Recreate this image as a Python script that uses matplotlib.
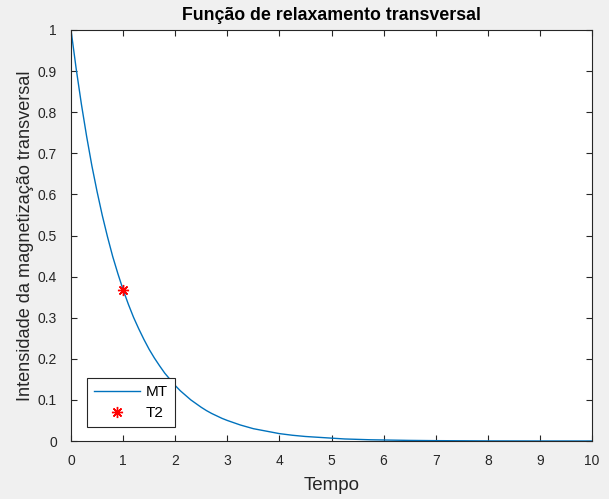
import matplotlib
matplotlib.use("Agg")
import matplotlib.pyplot as plt

plt.rcParams['font.family'] = ['Liberation Sans', 'DejaVu Sans']

# Curve
tempo = [0.0, 0.1, 0.2, 0.3, 0.4, 0.5, 0.6, 0.7, 0.8, 0.9, 1.0,
         1.1, 1.2, 1.3, 1.4, 1.5, 1.6, 1.7, 1.8, 1.9, 2.0,
         2.1, 2.2, 2.3, 2.4, 2.5, 2.6, 2.7, 2.8, 2.9, 3.0,
         3.25, 3.5, 3.75, 4.0, 4.25, 4.5, 4.75, 5.0, 5.25, 5.5, 5.75, 6.0,
         6.5, 7.0, 7.5, 8.0, 8.5, 9.0, 9.5, 10.0]
mt = [1.000, 0.905, 0.819, 0.741, 0.670, 0.607, 0.549, 0.497, 0.449, 0.407, 0.368,
      0.333, 0.301, 0.273, 0.247, 0.223, 0.202, 0.183, 0.165, 0.150, 0.135,
      0.122, 0.111, 0.100, 0.091, 0.082, 0.074, 0.067, 0.061, 0.055, 0.050,
      0.039, 0.030, 0.024, 0.018, 0.014, 0.011, 0.009, 0.007, 0.005, 0.004, 0.003, 0.0025,
      0.0015, 0.0009, 0.0006, 0.0003, 0.0002, 0.0001, 0.0001, 0.00005]
t2_x = [1.0]
t2_y = [0.368]

xticks = [0, 1, 2, 3, 4, 5, 6, 7, 8, 9, 10]
yticks = [0, 0.1, 0.2, 0.3, 0.4, 0.5, 0.6, 0.7, 0.8, 0.9, 1]
yticklabels = ['0', '0.1', '0.2', '0.3', '0.4', '0.5', '0.6', '0.7', '0.8', '0.9', '1']

fig = plt.figure(figsize=(6.09, 4.99), dpi=100, facecolor='#f0f0f0')
ax = fig.add_axes([0.1166, 0.1162, 0.8555, 0.8237])
ax.plot(tempo, mt, color='#0072BD', lw=1.0, label='MT')
ax.plot(t2_x, t2_y, linestyle='none', marker=(8, 2, 0), markersize=8,
        markeredgecolor='red', markeredgewidth=1.0, color='red', label='T2')

ax.set_xlim(0, 10)
ax.set_ylim(0, 1)
ax.set_xticks(xticks)
ax.set_yticks(yticks)
ax.set_yticklabels(yticklabels)
ax.tick_params(direction='in', length=4, width=0.8, top=True, right=True,
               labelsize=10, colors='#262626')
ax.tick_params(axis='x', pad=9)
ax.tick_params(axis='y', pad=10)
for s in ax.spines.values():
    s.set_color('#262626')
    s.set_linewidth(0.8)

ax.set_xlabel('Tempo', fontsize=13.5, color='#262626', labelpad=6.5)
ax.set_ylabel('Intensidade da magnetização transversal', fontsize=13.1, color='#262626', labelpad=2.5)
ax.set_title('Função de relaxamento transversal', fontsize=12.8, fontweight='bold', color='black', pad=7.5)

leg = ax.legend(loc='lower left', bbox_to_anchor=(0.031, 0.034), fontsize=11,
                frameon=True, fancybox=False, edgecolor='#262626', framealpha=1,
                borderpad=0.45, handlelength=3.0, handletextpad=0.4, labelspacing=0.45,
                borderaxespad=0)
leg.get_frame().set_linewidth(0.8)

fig.savefig('out.png', dpi=100, facecolor=fig.get_facecolor())
